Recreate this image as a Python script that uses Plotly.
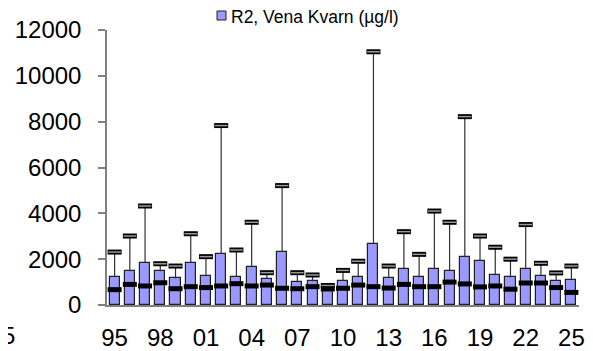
import plotly.graph_objects as go

# R2, Vena Kvarn - yearly values (µg/l)
years = list(range(1995, 2026))
mean_vals = [1240, 1470, 1850, 1470, 1160, 1850, 1270, 2230, 1240, 1650,
             1150, 2330, 990, 1030, 820, 1060, 1210, 2660, 1190, 1560,
             1210, 1560, 1500, 2080, 1920, 1300, 1210, 1590, 1250, 1050, 1090]
median_vals = [670, 900, 830, 970, 710, 800, 760, 830, 930, 830,
               870, 730, 710, 800, 700, 730, 870, 800, 740, 900,
               800, 800, 1000, 920, 790, 830, 690, 960, 960, 760, 550]
max_vals = [2310, 3010, 4320, 1800, 1700, 3110, 2110, 7830, 2400, 3610,
            1410, 5210, 1410, 1310, 850, 1510, 1910, 11050, 1700, 3200,
            2210, 4100, 3610, 8220, 3010, 2520, 2000, 3510, 1820, 1400, 1700]

tick_years = list(range(1995, 2026, 3))
tick_text = [f"{y % 100:02d}" for y in tick_years]

font = "Arial, Liberation Sans, sans-serif"

fig = go.Figure()

fig.add_trace(go.Bar(
    x=years, y=mean_vals, width=0.66,
    marker=dict(color="#9999FF", line=dict(color="#202020", width=1.2)),
    error_y=dict(type="data", symmetric=False,
                 array=[m - b for m, b in zip(max_vals, mean_vals)],
                 arrayminus=[0] * len(years),
                 width=0, thickness=1.2, color="#303030"),
    showlegend=False,
))

# max markers: black outlined dash with grey centre
fig.add_trace(go.Scatter(
    x=years, y=max_vals, mode="markers",
    marker=dict(symbol="line-ew", size=10, line=dict(color="black", width=5)),
    showlegend=False, hoverinfo="skip",
))
fig.add_trace(go.Scatter(
    x=years, y=max_vals, mode="markers",
    marker=dict(symbol="line-ew", size=9, line=dict(color="#9a9a9a", width=1.5)),
    showlegend=False, hoverinfo="skip",
))

# median markers: thick black dash
fig.add_trace(go.Scatter(
    x=years, y=median_vals, mode="markers",
    marker=dict(symbol="line-ew", size=10, line=dict(color="black", width=5)),
    showlegend=False, hoverinfo="skip",
))

# page has an 8px body margin, so the figure is sized/offset to compensate
fig.update_layout(
    width=585, height=343,
    margin=dict(l=99, r=14, t=22, b=46, autoexpand=False),
    paper_bgcolor="white", plot_bgcolor="white",
    font=dict(family=font, color="black", size=24),
    bargap=0,
    xaxis=dict(range=[1994.5, 2025.5], tickvals=tick_years, ticktext=tick_text,
               showline=True, linecolor="#808080", linewidth=1.5,
               showgrid=False, zeroline=False, ticks="", automargin=False,
               ticklabelstandoff=10, tickfont=dict(size=24)),
    yaxis=dict(range=[0, 12000], dtick=2000, tickformat="d", showline=True,
               linecolor="#808080", linewidth=1.5, showgrid=False,
               zeroline=False, ticks="outside", ticklen=7, tickcolor="#808080",
               tickwidth=1.5, ticklabelstandoff=12, automargin=False,
               tickfont=dict(size=24)),
    shapes=[dict(type="rect", xref="paper", yref="paper",
                 x0=(217 - 107) / 472, x1=(226 - 107) / 472,
                 y0=(305 - 20) / 275, y1=(305 - 11) / 275,
                 fillcolor="#9999FF", line=dict(color="#202020", width=1))],
    annotations=[
        dict(text="R2, Vena Kvarn (µg/l)", xref="paper", yref="paper",
             x=(229 - 107) / 472, y=(305 - 17) / 275, xanchor="left",
             yanchor="middle", showarrow=False, font=dict(size=17.5)),
        dict(text="5", xref="paper", yref="paper",
             x=(17 - 107) / 472, y=(305 - 335) / 275, xanchor="right",
             yanchor="middle", showarrow=False, font=dict(size=24)),
    ],
)

fig.write_html("out.html")
